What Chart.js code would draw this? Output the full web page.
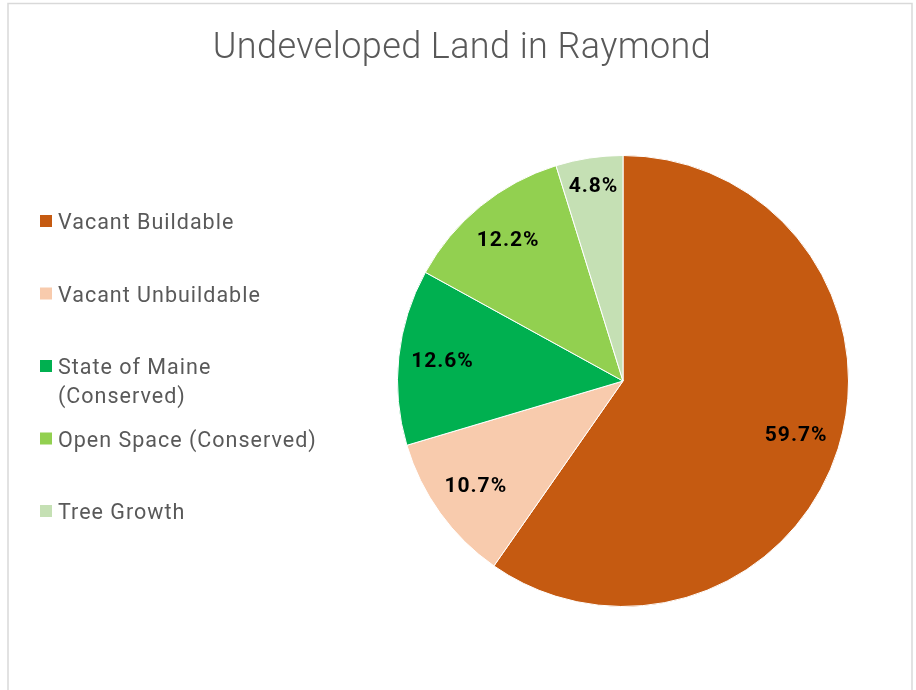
<!DOCTYPE html>
<html>
<head>
<meta charset="utf-8">
<script src="https://cdn.jsdelivr.net/npm/chart.js@4"></script>
<style>
  html, body { margin: 0; padding: 0; background: #fff; }
  #wrap { width: 916px; height: 690px; }
</style>
</head>
<body>
<div id="wrap"><canvas id="canvas" width="916" height="690"></canvas></div>
<script>
const title = 'Undeveloped Land in Raymond';
const labels = ['Vacant Buildable', 'Vacant Unbuildable', ['State of Maine', '(Conserved)'], 'Open Space (Conserved)', 'Tree Growth'];
const values = [59.7, 10.7, 12.6, 12.2, 4.8];
const colors = ['#c55a11', '#f8cbad', '#00b050', '#92d050', '#c5e0b4'];

// frame, title, legend and slice labels drawn by hand to copy the Excel layout
const decorPlugin = {
    id: 'decor',
    beforeDraw(chart) {
        const ctx = chart.ctx;
        ctx.save();
        ctx.strokeStyle = '#d9d9d9';
        ctx.lineWidth = 1.5;
        ctx.strokeRect(8, 3.5, 904, 700);
        ctx.restore();
    },
    afterDraw(chart) {
        const ctx = chart.ctx;
        ctx.save();
        ctx.textBaseline = 'alphabetic';

        ctx.fillStyle = '#595959';
        ctx.font = '300 36px Roboto';
        ctx.letterSpacing = '0.4px';
        ctx.textAlign = 'center';
        ctx.fillText(title, 462, 58);

        ctx.font = '21.5px Roboto';
        ctx.letterSpacing = '1px';
        ctx.textAlign = 'left';
        labels.forEach(function (label, i) {
            const lines = Array.isArray(label) ? label : [label];
            const y = 229 + i * 72.5;
            ctx.fillStyle = colors[i];
            ctx.fillRect(40, y - 14, 12, 12);
            ctx.fillStyle = '#595959';
            lines.forEach(function (line, j) {
                ctx.fillText(line, 58, y + j * 28.5);
            });
        });

        const meta = chart.getDatasetMeta(0);
        const total = values.reduce(function (a, b) { return a + b; }, 0);
        ctx.fillStyle = '#000';
        ctx.font = 'bold 21px Roboto';
        ctx.letterSpacing = '1px';
        ctx.textAlign = 'center';
        ctx.textBaseline = 'middle';
        meta.data.forEach(function (arc, i) {
            const p = arc.getProps(['x', 'y', 'startAngle', 'endAngle', 'outerRadius']);
            const mid = (p.startAngle + p.endAngle) / 2;
            const f = values[i] / total < 0.06 ? 0.87 : 0.805;
            const r = p.outerRadius * f;
            ctx.fillText(values[i].toFixed(1) + '%', p.x + Math.cos(mid) * r, p.y + Math.sin(mid) * r);
        });
        ctx.restore();
    }
};

const data = {
    labels: labels,
    datasets: [
        {
            data: values,
            backgroundColor: colors,
            borderColor: '#ffffff',
            borderWidth: 1,
        },
    ],
};

const config = {
    type: 'pie',
    data: data,
    options: {
        responsive: false,
        animation: false,
        events: [],
        layout: {
            padding: { left: 397, right: 67, top: 155, bottom: 83 },
        },
        plugins: {
            legend: { display: false },
            title: { display: false },
            tooltip: { enabled: false },
        },
    },
    plugins: [decorPlugin],
};

const canvas = document.getElementById('canvas');
const chart = new Chart(canvas, config);
</script>
</body>
</html>
